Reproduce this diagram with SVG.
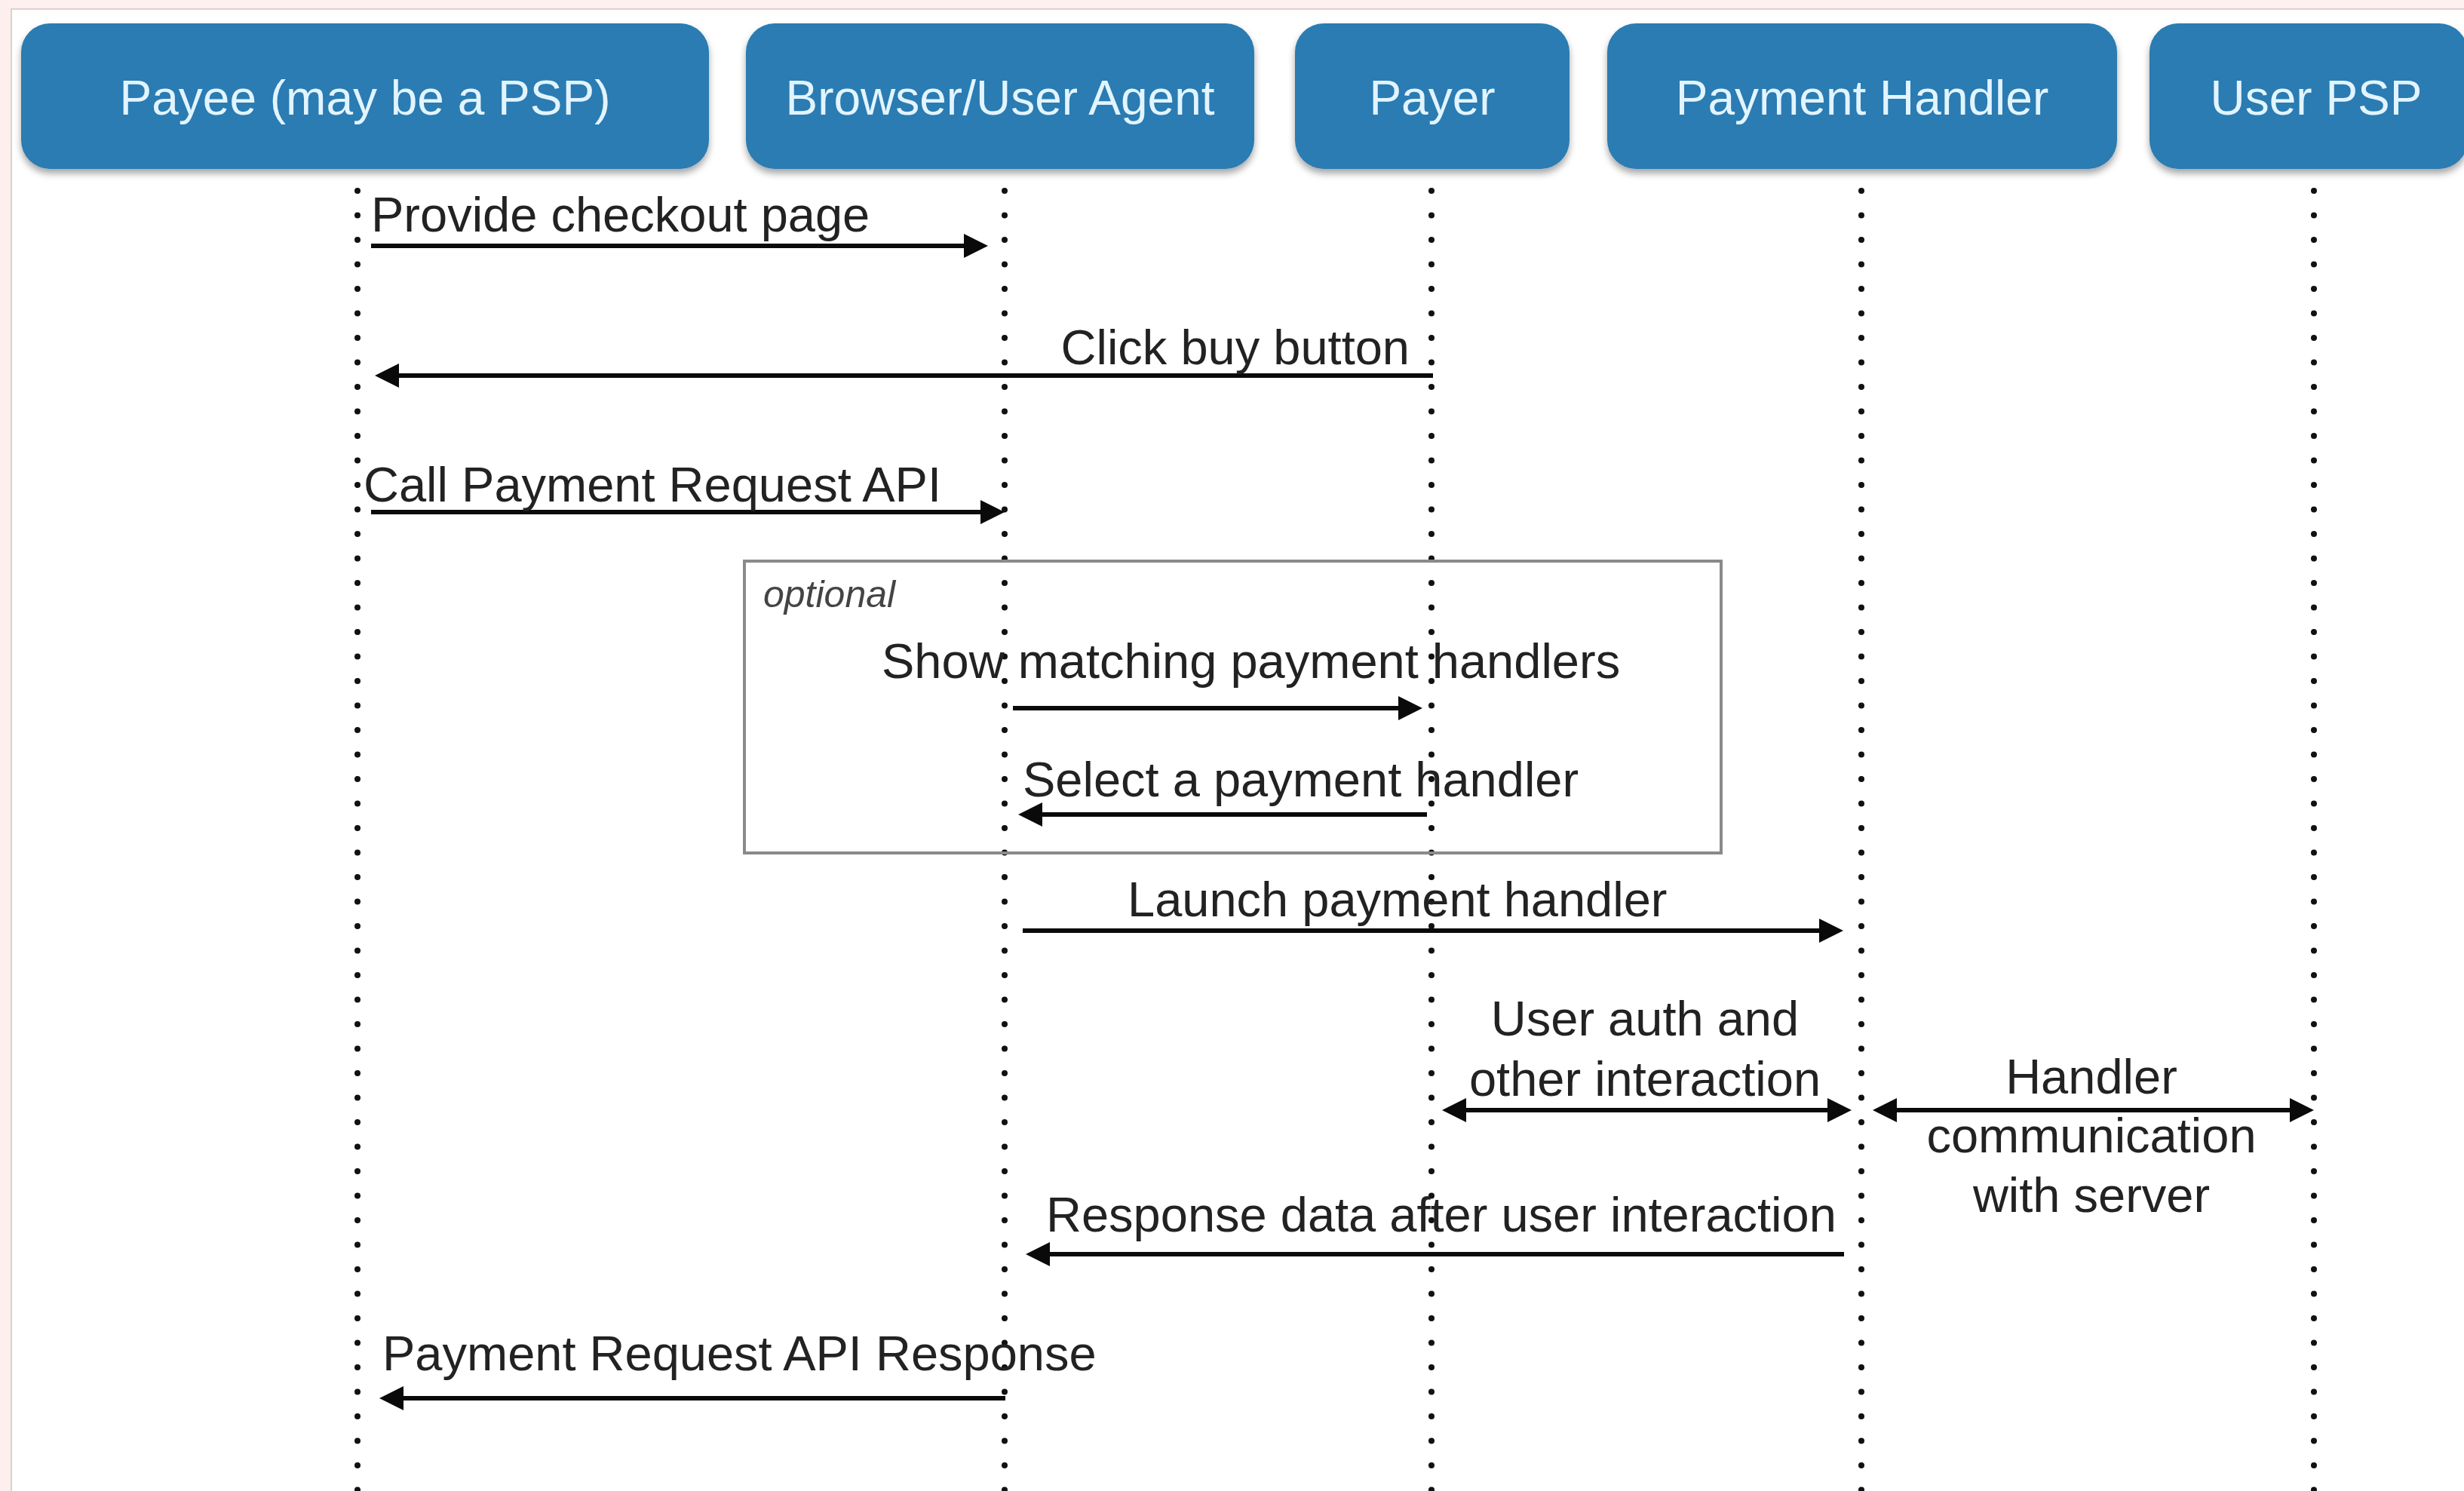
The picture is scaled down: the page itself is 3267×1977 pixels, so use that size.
<svg xmlns="http://www.w3.org/2000/svg" width="3267" height="1977" viewBox="0 0 3267 1977">
  <style>
    .actor rect { fill: #2a7bb2; filter: url(#shadow); }
    .actor text { fill: #e2f4ff; font-family: "Liberation Sans", Arial, sans-serif; font-size: 64px; text-anchor: middle; }
    .lifeline { stroke: #111; stroke-width: 8; stroke-linecap: round; stroke-dasharray: 0 32.5; fill: none; }
    .msg { stroke: #0a0a0a; stroke-width: 6; fill: none; }
    .one { marker-end: url(#head); }
    .two { marker-start: url(#head); marker-end: url(#head); }
    .label { fill: #222; font-family: "Liberation Sans", Arial, sans-serif; font-size: 65px; }
    .mid { text-anchor: middle; }
    .end { text-anchor: end; }
    .frame { fill: none; stroke: #8a8a8a; stroke-width: 4; }
    .frame-title { fill: #444; font-family: "Liberation Sans", Arial, sans-serif; font-size: 50px; font-style: italic; }
  </style>
  <defs>
    <filter id="shadow" x="-5%" y="-10%" width="110%" height="130%">
      <feDropShadow dx="0" dy="6" stdDeviation="5" flood-color="#000" flood-opacity="0.35"/>
    </filter>
    <marker id="head" markerUnits="userSpaceOnUse" markerWidth="32" markerHeight="32" refX="12" refY="16" orient="auto-start-reverse">
      <path d="M0,0 L32,16 L0,32 z" fill="#0a0a0a"/>
    </marker>
  </defs>

  <!-- page background and sheet -->
  <rect x="0" y="0" width="3267" height="1977" fill="#fcefed"/>
  <rect x="15" y="12" width="3262" height="1975" fill="#ffffff" stroke="#d9d2d0" stroke-width="2"/>

  <!-- lifelines -->
  <g id="lifelines">
    <line class="lifeline" x1="474" y1="253" x2="474" y2="1990"/>
    <line class="lifeline" x1="1332" y1="253" x2="1332" y2="1990"/>
    <line class="lifeline" x1="1898" y1="253" x2="1898" y2="1990"/>
    <line class="lifeline" x1="2468" y1="253" x2="2468" y2="1990"/>
    <line class="lifeline" x1="3068" y1="253" x2="3068" y2="1990"/>
  </g>

  <!-- actors -->
  <g id="payee" class="actor">
    <rect x="28" y="31" width="912" height="193" rx="38"/>
    <text x="484" y="152">Payee (may be a PSP)</text>
  </g>
  <g id="browser" class="actor">
    <rect x="989" y="31" width="674" height="193" rx="38"/>
    <text x="1326" y="152">Browser/User Agent</text>
  </g>
  <g id="payer" class="actor">
    <rect x="1717" y="31" width="364" height="193" rx="38"/>
    <text x="1899" y="152">Payer</text>
  </g>
  <g id="payment-handler" class="actor">
    <rect x="2131" y="31" width="676" height="193" rx="38"/>
    <text x="2469" y="152">Payment Handler</text>
  </g>
  <g id="user-psp" class="actor">
    <rect x="2850" y="31" width="422" height="193" rx="38"/>
    <text x="3071" y="152">User PSP</text>
  </g>

  <!-- optional fragment -->
  <g id="optional-frame">
    <rect class="frame" x="987" y="744" width="1295" height="387"/>
    <text class="frame-title" x="1012" y="805">optional</text>
  </g>

  <!-- messages -->
  <g id="connectors">
    <line class="msg one" x1="492" y1="326" x2="1290" y2="326"/>
    <line class="msg one" x1="1900" y1="498" x2="517" y2="498"/>
    <line class="msg one" x1="492" y1="679" x2="1312" y2="679"/>
    <line class="msg one" x1="1343" y1="939" x2="1866" y2="939"/>
    <line class="msg one" x1="1892" y1="1080" x2="1370" y2="1080"/>
    <line class="msg one" x1="1356" y1="1234" x2="2424" y2="1234"/>
    <line class="msg two" x1="1932" y1="1472" x2="2435" y2="1472"/>
    <line class="msg two" x1="2503" y1="1472" x2="3048" y2="1472"/>
    <line class="msg one" x1="2445" y1="1663" x2="1380" y2="1663"/>
    <line class="msg one" x1="1333" y1="1854" x2="523" y2="1854"/>
  </g>

  <!-- message labels -->
  <g id="labels">
    <text class="label" x="492" y="307">Provide checkout page</text>
    <text class="label end" x="1869" y="483">Click buy button</text>
    <text class="label" x="482" y="665">Call Payment Request API</text>
    <text class="label" x="1169" y="899">Show matching payment handlers</text>
    <text class="label" x="1356" y="1056">Select a payment handler</text>
    <text class="label" x="1495" y="1215">Launch payment handler</text>
    <text class="label mid" x="2181" y="1373">User auth and</text>
    <text class="label mid" x="2181" y="1453">other interaction</text>
    <text class="label mid" x="2773" y="1450">Handler</text>
    <text class="label mid" x="2773" y="1528">communication</text>
    <text class="label mid" x="2773" y="1607">with server</text>
    <text class="label" x="1387" y="1633">Response data after user interaction</text>
    <text class="label" x="507" y="1817">Payment Request API Response</text>
  </g>
</svg>
